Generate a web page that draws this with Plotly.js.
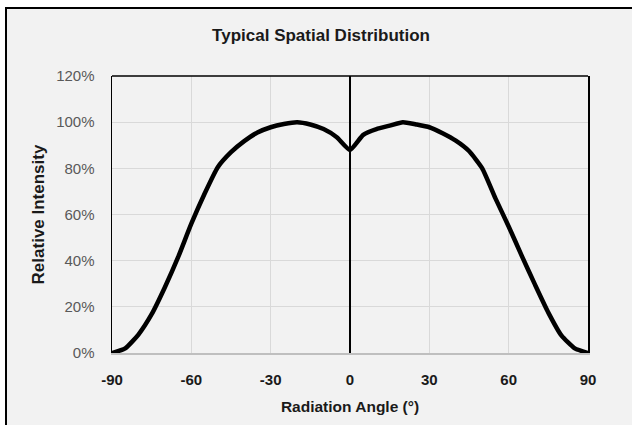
<!DOCTYPE html>
<html>
<head>
<meta charset="utf-8">
<script src="https://cdn.plot.ly/plotly-3.0.1.min.js"></script>
<style>
  html, body { margin: 0; padding: 0; background: #ffffff; width: 632px; height: 425px; overflow: hidden; }
  #frame { position: absolute; left: 5px; top: 7px; width: 700px; height: 500px;
           background: #f2f2f2; border-left: 2px solid #000; border-top: 2px solid #000; }
  #chart { position: absolute; left: 0; top: 0; width: 632px; height: 425px; }
</style>
</head>
<body>
<div id="frame"></div>
<div id="chart"></div>
<script>
// Radiation angle (degrees)
const angles = [-90,-85,-80,-75,-70,-65,-60,-55,-50,-45,-40,-35,-30,-25,-20,-15,-10,-5,0,
                5,10,15,20,25,30,35,40,45,50,55,60,65,70,75,80,85,90];
// Relative intensity (fraction of peak)
const intensity = [0.00,0.02,0.08,0.168,0.285,0.415,0.56,0.69,0.805,0.87,0.918,0.955,0.978,0.992,1.00,0.99,0.97,0.935,0.88,
                   0.945,0.97,0.985,1.00,0.99,0.978,0.952,0.92,0.875,0.80,0.67,0.548,0.42,0.295,0.175,0.075,0.02,0.00];
const xTicks = [-90,-60,-30,0,30,60,90];
const yTicks = [0,0.2,0.4,0.6,0.8,1.0,1.2];

const trace = {
  x: angles, y: intensity, type: 'scatter', mode: 'lines',
  line: { color: '#000000', width: 4.5, shape: 'spline', smoothing: 0.5 },
  hoverinfo: 'skip', showlegend: false
};

const layout = {
  width: 632, height: 425,
  margin: { l: 112, r: 44, t: 76, b: 72, pad: 0 },
  paper_bgcolor: 'rgba(0,0,0,0)',
  plot_bgcolor: '#f2f2f2',
  font: { family: 'Liberation Sans, Arial, sans-serif', color: '#595959' },
  title: {
    text: 'Typical Spatial Distribution',
    font: { family: 'Liberation Sans, Arial, sans-serif', size: 17, weight: 'bold', color: '#1a1a1a' },
    x: 0.508, xanchor: 'center', xref: 'container',
    y: 1 - 35/425, yanchor: 'middle', yref: 'container'
  },
  xaxis: {
    range: [-90, 90], tickvals: xTicks, ticktext: xTicks.map(String),
    showgrid: true, gridcolor: '#d9d9d9', gridwidth: 1,
    zeroline: true, zerolinecolor: '#000000', zerolinewidth: 1.5,
    showline: true, linecolor: '#bfbfbf', linewidth: 1.5,
    ticks: '', ticklabelstandoff: 12,
    tickfont: { size: 15, weight: 'bold', color: '#1a1a1a' },
    title: { text: 'Radiation Angle (°)', standoff: 14,
             font: { size: 15.5, weight: 'bold', color: '#1a1a1a' } },
    fixedrange: true
  },
  yaxis: {
    range: [0, 1.2], tickvals: yTicks, tickformat: '.0%',
    showgrid: true, gridcolor: '#d9d9d9', gridwidth: 1,
    zeroline: false,
    showline: true, linecolor: '#000000', linewidth: 1.5, mirror: true,
    ticks: '', ticklabelstandoff: 13,
    tickfont: { size: 15, color: '#595959' },
    title: { text: 'Relative Intensity', standoff: 7,
             font: { size: 17, weight: 'bold', color: '#1a1a1a' } },
    fixedrange: true
  },
  shapes: [
    { type: 'line', xref: 'paper', yref: 'paper', x0: 0, x1: 1, y0: 1, y1: 1,
      line: { color: '#000000', width: 1.5 } }
  ]
};

Plotly.newPlot('chart', [trace], layout, { staticPlot: true, displayModeBar: false });
</script>
</body>
</html>
